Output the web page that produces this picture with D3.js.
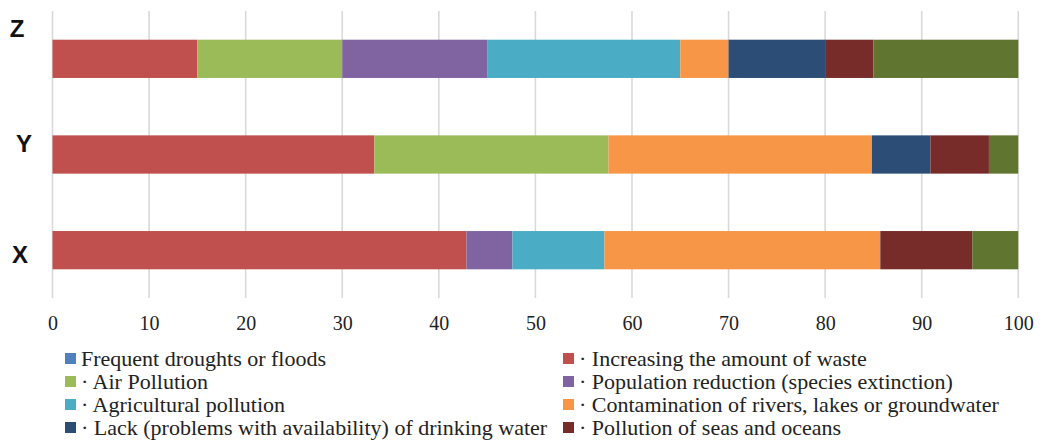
<!DOCTYPE html>
<html>
<head>
<meta charset="utf-8">
<script src="https://cdn.jsdelivr.net/npm/d3@7"></script>
<style>
  html, body { margin: 0; padding: 0; background: #fff; }
  svg { display: block; }
</style>
</head>
<body>
<svg id="chart" width="1043" height="441"></svg>
<script>
// Categories, top to bottom
const categories = ["Z", "Y", "X"];

// Series names (legend order) and their shares per category (%), in Z, Y, X order
const seriesNames = [
  "Frequent droughts or floods",
  "Increasing the amount of waste",
  "Air Pollution",
  "Population reduction (species extinction)",
  "Agricultural pollution",
  "Contamination of rivers, lakes or groundwater",
  "Lack (problems with availability) of drinking water",
  "Pollution of seas and oceans",
  "Other"
];
const droughts      = [0, 0, 0];
const waste         = [15, 33.33, 42.86];
const airPollution  = [15, 24.24, 0];
const population    = [15, 0, 4.76];
const agricultural  = [20, 0, 9.52];
const contamination = [5, 27.27, 28.57];
const drinkingWater = [10, 6.06, 0];
const seas          = [5, 6.06, 9.52];
const other         = [15, 3.03, 4.76];

// Bar order from left to right
const seriesValues = [droughts, waste, airPollution, population, agricultural,
                      contamination, drinkingWater, seas, other];

const colors = ["#4F81BD", "#C0504D", "#9BBB59", "#8064A2", "#4BACC6",
                "#F79646", "#2C4D75", "#772C2A", "#5F7530"];

const xTicks = [0, 10, 20, 30, 40, 50, 60, 70, 80, 90, 100];

// Legend entries (two columns, the last series has no legend entry)
const legendLeft  = [0, 2, 4, 6];
const legendRight = [1, 3, 5, 7];

const svg = d3.select("#chart");
const plot = { left: 52.5, right: 1018.3, top: 11, bottom: 298 };

const x = d3.scaleLinear().domain([0, 100]).range([plot.left, plot.right]);
const y = d3.scaleBand().domain(categories).range([plot.top, plot.bottom]).paddingInner(0.6).paddingOuter(0.3);

// Build stacked table
const table = categories.map((c, i) => {
  const row = { category: c };
  seriesNames.forEach((s, j) => { row[s] = seriesValues[j][i]; });
  return row;
});
const stacked = d3.stack().keys(seriesNames)(table);

// Vertical gridlines
svg.append("g")
  .selectAll("line")
  .data(xTicks)
  .join("line")
  .attr("x1", d => x(d)).attr("x2", d => x(d))
  .attr("y1", plot.top).attr("y2", plot.bottom)
  .attr("stroke", "#d9d9d9")
  .attr("stroke-width", 1.6);

// Bars
svg.append("g")
  .selectAll("g")
  .data(stacked)
  .join("g")
  .attr("fill", (d, i) => colors[i])
  .selectAll("rect")
  .data(d => d)
  .join("rect")
  .attr("x", d => x(d[0]))
  .attr("width", d => x(d[1]) - x(d[0]))
  .attr("y", d => y(d.data.category))
  .attr("height", y.bandwidth());

// X axis labels
const xAxis = d3.axisBottom(x).tickValues(xTicks).tickSize(0).tickPadding(0);
const gx = svg.append("g")
  .attr("transform", `translate(0,${plot.bottom})`)
  .call(xAxis);
gx.select(".domain").remove();
gx.selectAll("text")
  .attr("y", 25)
  .attr("dy", "0.35em")
  .attr("fill", "#222")
  .style("font-family", "'Liberation Serif', 'Times New Roman', serif")
  .style("font-size", "20px");

// Category labels
const catOffset = { Z: [-3, -30], Y: [4, -11], X: [0, 4] };
svg.append("g")
  .selectAll("text")
  .data(categories)
  .join("text")
  .attr("x", d => 20 + catOffset[d][0])
  .attr("y", d => y(d) + y.bandwidth() / 2 + catOffset[d][1])
  .attr("dy", "0.36em")
  .attr("text-anchor", "middle")
  .attr("fill", "#111")
  .style("font-family", "'Liberation Sans', Arial, sans-serif")
  .style("font-weight", "bold")
  .style("font-size", "24px")
  .text(d => d);

// Legend
const legendRows = [358, 381, 404, 427];
function drawLegend(indices, mx, tx) {
  const g = svg.append("g");
  indices.forEach((si, r) => {
    g.append("rect")
      .attr("x", mx).attr("y", legendRows[r] - 5)
      .attr("width", 11).attr("height", 11)
      .attr("fill", colors[si]);
    g.append("text")
      .attr("x", tx).attr("y", legendRows[r])
      .attr("dy", "0.35em")
      .attr("fill", "#222")
      .style("font-family", "'Liberation Serif', 'Times New Roman', serif")
      .style("font-size", "22px")
      .text(si === 0 ? seriesNames[si] : "\u00B7 " + seriesNames[si]);
  });
}
drawLegend(legendLeft, 65, 81);
drawLegend(legendRight, 563, 579);
</script>
</body>
</html>
